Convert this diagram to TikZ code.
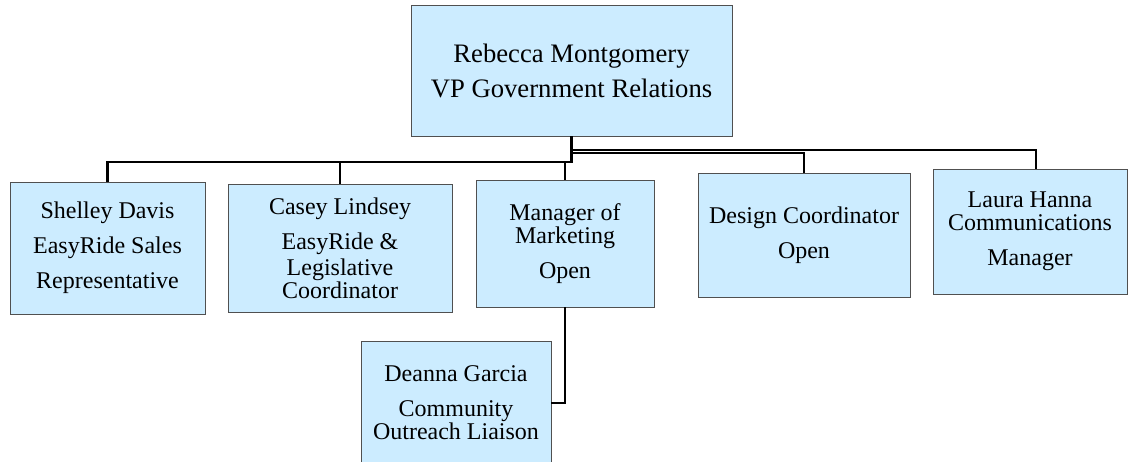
\documentclass[tikz,border=0pt]{standalone}
\usepackage{fontspec}
\setmainfont{Liberation Serif}
\newfontfamily\chartfont{Liberation Serif}
\definecolor{boxblue}{HTML}{CCECFF}
\definecolor{boxline}{HTML}{505050}
\tikzset{person/.style={draw=boxline, fill=boxblue, line width=0.6pt, inner sep=0pt,
		align=center, font=\chartfont\fontsize{18}{17.25}\selectfont},
	link/.style={draw, line width=1.6pt}}

\begin{document}
\begin{tikzpicture}[x=0.75pt,y=-0.75pt]
		\useasboundingbox (0,0) rectangle (1128,461);
		%		top of the chart
		\node[person, minimum width=240.75pt, minimum height=98.25pt, font=\chartfont\fontsize{20}{26.25}\selectfont] (vp) at (571.5,70.5){Rebecca Montgomery\\VP Government Relations};
		\node[person, minimum width=146.25pt, minimum height=99pt] (shelley) at (107.5,248){Shelley Davis\\[9pt]EasyRide Sales\\[9pt]Representative};
		\node[person, minimum width=168pt, minimum height=96pt] (casey) at (340,248){Casey Lindsey\\[9pt]EasyRide \&\\[2pt]Legislative\\Coordinator};
		\node[person, minimum width=133.5pt, minimum height=95.25pt] (mgr) at (565,243.5){Manager of\\Marketing\\[9pt]Open};
		\node[person, minimum width=159pt, minimum height=93pt] (design) at (804,235){Design Coordinator\\[9pt]Open};
		\node[person, minimum width=145.5pt, minimum height=93.75pt] (laura) at (1030,231.5){Laura Hanna\\Communications\\[9pt]Manager};
		\node[person, minimum width=142.5pt, minimum height=93pt] (deanna) at (456,403){Deanna Garcia\\[9pt]Community\\Outreach Liaison};
		%		connectors
		\draw[link] (vp.south) -- ++(0,14) -| ([xshift=4.5pt]laura.north);
		\draw[link] (vp.south) -- ++(0,17) -| (design.north);
		\draw[link] (vp.south) -- ++(0,26) coordinate (lbus) -| (shelley.north);
		\draw[link] (lbus -| casey.north) -- (casey.north);
		\draw[link] (lbus -| mgr.north) -- (mgr.north);
		\draw[link] (mgr.south) |- (deanna.east);
		\end{tikzpicture}
\end{document}
